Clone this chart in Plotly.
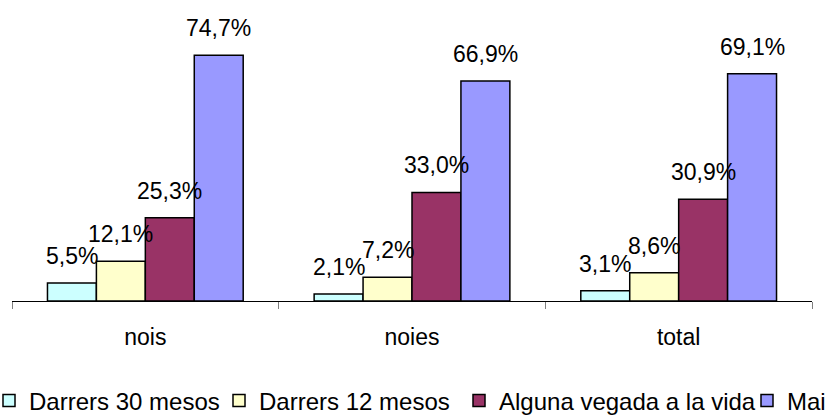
import plotly.graph_objects as go

categories = ["nois", "noies", "total"]
series_names = ["Darrers 30 mesos", "Darrers 12 mesos", "Alguna vegada a la vida", "Mai"]
darrers_30 = [5.5, 2.1, 3.1]
darrers_12 = [12.1, 7.2, 8.6]
alguna_vegada = [25.3, 33.0, 30.9]
mai = [74.7, 66.9, 69.1]
series_values = [darrers_30, darrers_12, alguna_vegada, mai]
colors = ["#CCFFFF", "#FFFFCC", "#993366", "#9999FF"]

W, H = 827, 415
ML, MR, MT, MB = 12, 15, 5, 114
FONT = "Liberation Sans, Arial, sans-serif"
BARGAP = 0.266

plot_w = W - ML - MR
bar_px = plot_w / len(categories) * (1 - BARGAP) / len(series_names)

fig = go.Figure()
legend_ids = ["legend", "legend2", "legend3", "legend4"]
for i, (name, vals, col) in enumerate(zip(series_names, series_values, colors)):
    fig.add_trace(go.Bar(
        x=categories, y=vals, name=name,
        marker=dict(color=col, line=dict(color="black", width=1.5)),
        legend=legend_ids[i], hoverinfo="skip",
    ))
    for c, v in zip(categories, vals):
        fig.add_annotation(
            x=c, y=v, text=f"{v:.1f}%".replace(".", ","),
            showarrow=False, xshift=(i - 1.5) * bar_px, yshift=27,
            font=dict(family=FONT, size=23, color="black"),
        )

# legend positions (symbol centres in px)
sym_px = [9, 239, 479, 767]
legend_y = -(401 - (H - MB)) / (H - MT - MB)
layout_legends = {}
for lid, sx in zip(legend_ids, sym_px):
    layout_legends[lid] = dict(
        x=(sx - 20 - ML) / plot_w, xanchor="left", y=legend_y, yanchor="middle",
        orientation="h", bgcolor="rgba(0,0,0,0)", borderwidth=0,
        font=dict(family=FONT, size=24, color="black"),
    )

fig.update_layout(
    width=W, height=H,
    margin=dict(l=ML, r=MR, t=MT, b=MB, autoexpand=False),
    paper_bgcolor="white", plot_bgcolor="white",
    barmode="group", bargap=BARGAP, bargroupgap=0,
    showlegend=True,
    font=dict(family=FONT, size=23, color="black"),
    xaxis=dict(
        type="category", showline=True, linecolor="black", linewidth=1,
        ticks="outside", tickson="boundaries", ticklen=7, tickcolor="#808080",
        tickfont=dict(family=FONT, size=23, color="black"),
        ticklabelstandoff=15,
        showgrid=False, zeroline=False,
    ),
    yaxis=dict(range=[0, 90], visible=False, showgrid=False, zeroline=False),
    **layout_legends,
)

fig.write_html("out.html", config={"displayModeBar": False},
               post_script="document.body.style.margin='0';")
